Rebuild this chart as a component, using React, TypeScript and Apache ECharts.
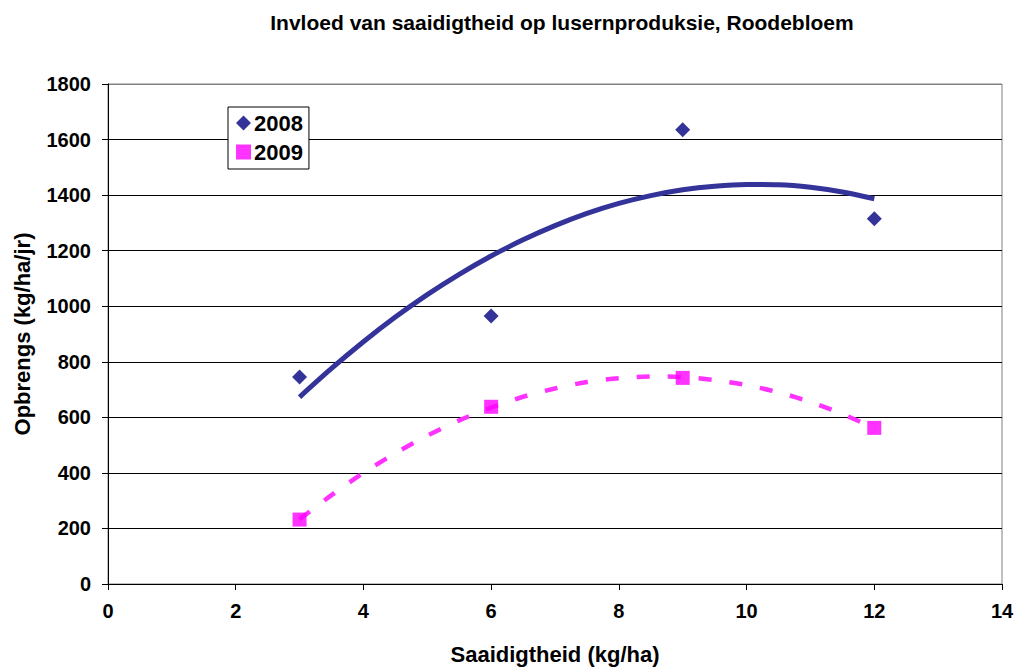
import React, { useEffect, useRef } from "react";
import * as echarts from "echarts";

const xValues = [3, 6, 9, 12];
const yield2008 = [745, 965, 1635, 1315];
const yield2009 = [232, 638, 742, 562];
const trendX = [3, 3.5, 4, 4.5, 5, 5.5, 6, 6.5, 7, 7.5, 8, 8.5, 9, 9.5, 10, 10.5, 11, 11.5, 12];
const trend2008 = [673, 776, 872, 961, 1042, 1115, 1181, 1239, 1290, 1334, 1370, 1398, 1419, 1432, 1438, 1437, 1428, 1411, 1387];
const trend2009 = [233, 320, 400, 471, 534, 589, 635, 674, 704, 727, 741, 747, 745, 734, 716, 690, 655, 612, 561];
const seriesNames = ["2008", "2009"];

const FONT = "'Liberation Sans', Arial, sans-serif";

export default function App() {
  const ref = useRef<HTMLDivElement>(null);
  useEffect(() => {
    if (!ref.current) return;
    const chart = echarts.init(ref.current, undefined, { renderer: "svg" });
    const pts = (xs: number[], ys: number[]) => xs.map((x, i) => [x, ys[i]]);
    const splitColors = ["#000", "#000", "#000", "#000", "#000", "#000", "#000", "#000", "#000", "#808080"];
    chart.setOption({
      animation: false,
      backgroundColor: "#fff",
      textStyle: { fontFamily: FONT },
      title: {
        text: "Invloed van saaidigtheid op lusernproduksie, Roodebloem",
        left: 557,
        textAlign: "center",
        top: 7,
        textStyle: { fontFamily: FONT, fontWeight: "bold", fontSize: 21, color: "#000" },
      },
      legend: {
        orient: "vertical",
        left: 228,
        top: 107,
        padding: [5, 6, 6, 8],
        itemGap: 7,
        itemWidth: 15,
        itemHeight: 15,
        backgroundColor: "#fff",
        borderColor: "#000",
        borderWidth: 1,
        borderRadius: 0,
        data: [
          { name: seriesNames[0], icon: "diamond" },
          { name: seriesNames[1], icon: "rect" },
        ],
        textStyle: { fontFamily: FONT, fontWeight: "bold", fontSize: 22, color: "#000", padding: [0, 0, 0, -2] },
      },
      grid: {
        left: 108,
        right: 17,
        top: 84,
        bottom: 83,
        show: true,
        borderColor: "#808080",
        borderWidth: 1,
        backgroundColor: "#fff",
        outerBoundsMode: "none",
        containLabel: false,
      },
      xAxis: {
        type: "value",
        min: 0,
        max: 14,
        interval: 2,
        name: "Saaidigtheid (kg/ha)",
        nameLocation: "middle",
        nameGap: 59,
        nameTextStyle: { fontFamily: FONT, fontWeight: "bold", fontSize: 22, color: "#000" },
        axisLine: { show: true, lineStyle: { color: "#000", width: 1 } },
        axisTick: { show: true, length: 6, lineStyle: { color: "#000" } },
        axisLabel: { fontFamily: FONT, fontWeight: "bold", fontSize: 20, color: "#000", margin: 17 },
        splitLine: { show: false },
      },
      yAxis: {
        type: "value",
        min: 0,
        max: 1800,
        interval: 200,
        name: "Opbrengs (kg/ha/jr)",
        nameLocation: "middle",
        nameGap: 75,
        nameTextStyle: { fontFamily: FONT, fontWeight: "bold", fontSize: 22, color: "#000" },
        axisLine: { show: true, lineStyle: { color: "#000", width: 1 } },
        axisTick: { show: true, length: 6, lineStyle: { color: "#000" } },
        axisLabel: {
          fontFamily: FONT,
          fontWeight: "bold",
          fontSize: 20,
          color: "#000",
          margin: 17,
          formatter: (v: number) => String(v),
        },
        splitLine: { show: true, lineStyle: { color: splitColors, width: 1 } },
      },
      series: [
        {
          name: "trend2008",
          type: "line",
          data: pts(trendX, trend2008),
          smooth: 0.3,
          showSymbol: false,
          symbol: "none",
          lineStyle: { color: "#333399", width: 5 },
          z: 3,
        },
        {
          name: "trend2009",
          type: "line",
          data: pts(trendX, trend2009),
          smooth: 0.3,
          showSymbol: false,
          symbol: "none",
          lineStyle: { color: "#FF33FF", width: 4.5, type: [13, 18] },
          z: 3,
        },
        {
          name: seriesNames[0],
          type: "scatter",
          data: pts(xValues, yield2008),
          symbol: "diamond",
          symbolSize: 15,
          itemStyle: { color: "#000080" },
          z: 4,
        },
        {
          name: seriesNames[1],
          type: "scatter",
          data: pts(xValues, yield2009),
          symbol: "rect",
          symbolSize: 14,
          itemStyle: { color: "#FF00FF" },
          z: 4,
        },
      ],
    });
    return () => chart.dispose();
  }, []);
  return (
    <div
      ref={ref}
      style={{ position: "fixed", left: 0, top: 0, width: 1019, height: 667 }}
    />
  );
}
